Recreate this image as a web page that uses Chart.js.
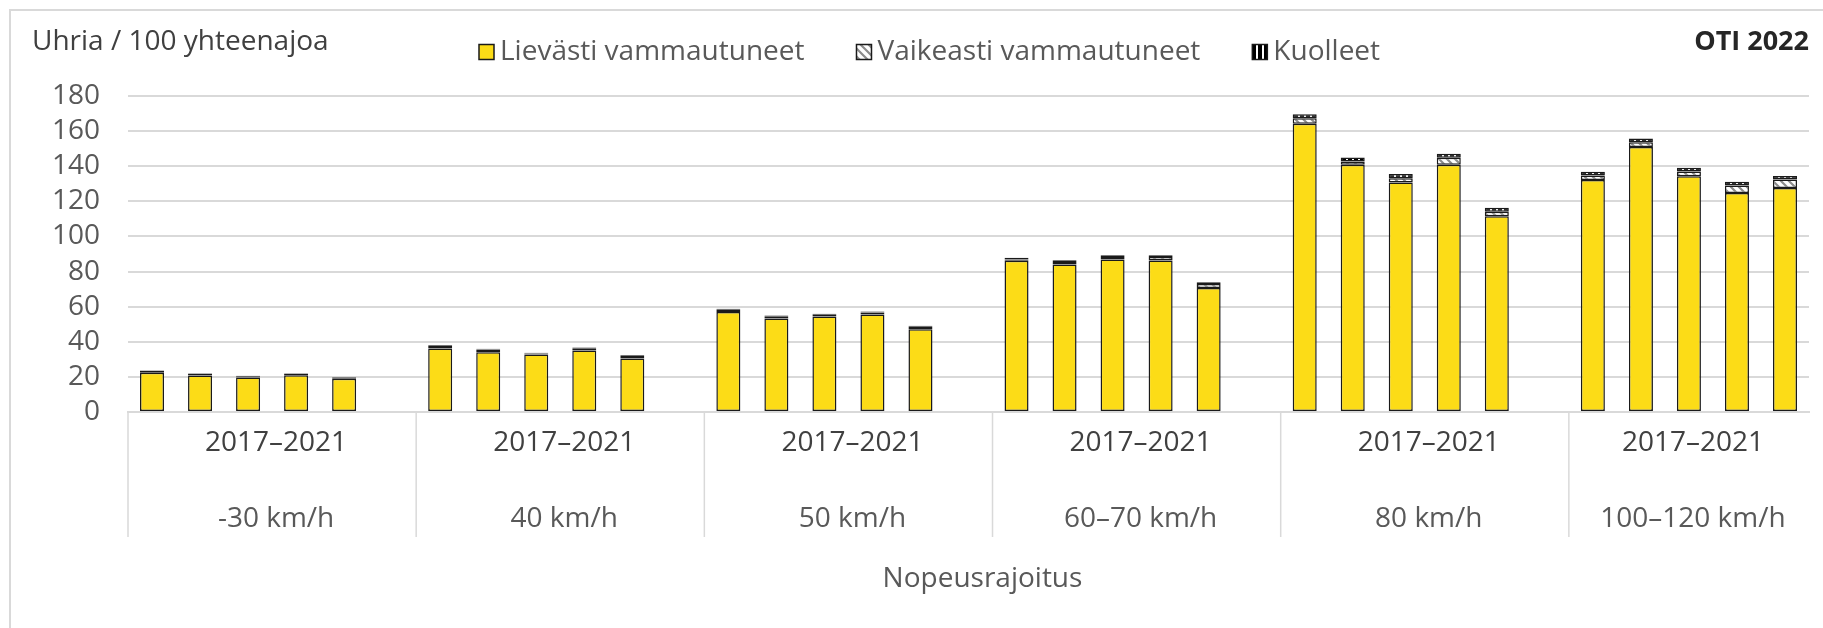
<!DOCTYPE html>
<html lang="fi">
<head>
<meta charset="utf-8">
<title>Uhria / 100 yhteenajoa</title>
<script src="https://cdn.jsdelivr.net/npm/chart.js@4/dist/chart.umd.min.js"></script>
<style>
  html, body { margin: 0; padding: 0; background: #fff; }
  #chart { display: block; }
</style>
</head>
<body>
<canvas id="chart" width="1823" height="628"></canvas>
<script>
// Ryhmät ja jakso
const period = '2017–2021';
const groups = ['-30 km/h', '40 km/h', '50 km/h', '60–70 km/h', '80 km/h', '100–120 km/h'];
const yTicks = [0, 20, 40, 60, 80, 100, 120, 140, 160, 180];

// Uhrit / 100 yhteenajoa, viisi pylvästä ryhmää kohden
const lievasti = [
    22.3, 20.8, 19.6, 21.0, 18.9,
    36.2, 34.1, 32.7, 35.0, 30.5,
    56.9, 53.3, 54.4, 55.5, 47.2,
    86.1, 84.0, 86.9, 86.3, 70.7,
    164.2, 140.8, 130.7, 140.8, 111.5,
    132.1, 151.0, 134.3, 124.8, 127.6
];
const vaikeasti = [
    1.0, 1.0, 0.7, 0.8, 0.8,
    1.5, 1.5, 0.6, 1.3, 1.5,
    1.4, 1.2, 1.0, 1.2, 1.4,
    0.8, 1.5, 1.4, 2.0, 2.2,
    3.1, 1.9, 2.5, 4.0, 2.5,
    2.6, 2.7, 2.7, 4.2, 4.8
];
const kuolleet = [
    0.3, 0.3, 0.3, 0.3, 0.3,
    0.4, 0.4, 0.4, 0.4, 0.4,
    0.5, 0.5, 0.5, 0.5, 0.5,
    0.9, 1.0, 1.0, 1.0, 1.0,
    2.3, 2.3, 2.3, 2.3, 2.3,
    2.1, 2.1, 2.1, 2.1, 2.1
];

const FONT = "'Open Sans', 'Noto Sans', sans-serif";
const FONT_SIZE = 28;
const GRID = '#d9d9d9';
const BARS_PER_GROUP = 5;

// kuviotäytöt
function makePattern(w, h, paint) {
    const c = document.createElement('canvas');
    c.width = w; c.height = h;
    paint(c.getContext('2d'));
    return c.getContext('2d').createPattern(c, 'repeat');
}
const severePattern = makePattern(8, 8, g => {
    g.fillStyle = '#fff';
    g.fillRect(0, 0, 8, 8);
    g.strokeStyle = '#8c8c8c';
    g.lineWidth = 2.2;
    g.beginPath();
    g.moveTo(-2, -2); g.lineTo(10, 10);
    g.moveTo(-2, 6); g.lineTo(2, 10);
    g.moveTo(6, -2); g.lineTo(10, 2);
    g.stroke();
});
const deadPattern = makePattern(6, 6, g => {
    g.fillStyle = '#000';
    g.fillRect(0, 0, 6, 6);
    g.fillStyle = '#fff';
    g.fillRect(2, 0, 2, 6);
});

// 5 pylvästä + tyhjä väli jokaisen ryhmän perään (paitsi viimeisen)
const slots = [];
const lightData = [], severeData = [], deadData = [];
groups.forEach((g, gi) => {
    for (let k = 0; k < BARS_PER_GROUP; k++) {
        const i = gi * BARS_PER_GROUP + k;
        slots.push(g);
        lightData.push(lievasti[i]);
        severeData.push(vaikeasti[i]);
        deadData.push(kuolleet[i]);
    }
    if (gi < groups.length - 1) {
        slots.push('');
        lightData.push(null); severeData.push(null); deadData.push(null);
    }
});

const barStyle = {
    borderColor: '#1a1a1a',
    borderWidth: 1.5,
    borderSkipped: false,
    barPercentage: 0.5,
    categoryPercentage: 1.0
};

// otsikot, selite, ryhmien nimet ja kehys
const decorPlugin = {
    id: 'decor',
    afterDraw(chart) {
        const ctx = chart.ctx;
        const x = chart.scales.x;
        const area = chart.chartArea;
        ctx.save();

        // kehys
        ctx.strokeStyle = GRID;
        ctx.lineWidth = 2;
        ctx.beginPath();
        ctx.moveTo(10, 640);
        ctx.lineTo(10, 10);
        ctx.lineTo(1830, 10);
        ctx.stroke();

        ctx.textBaseline = 'middle';
        ctx.font = `${FONT_SIZE}px ${FONT}`;
        ctx.fillStyle = '#404040';
        ctx.textAlign = 'left';
        ctx.fillText('Uhria / 100 yhteenajoa', 32, 42);

        ctx.font = `bold 27px ${FONT}`;
        ctx.fillStyle = '#262626';
        ctx.textAlign = 'right';
        ctx.fillText('OTI 2022', area.right, 42);

        // selite
        ctx.font = `${FONT_SIZE}px ${FONT}`;
        ctx.textAlign = 'left';
        let lx = 479;
        const ly = 52, box = 15;
        chart.data.datasets.forEach(ds => {
            ctx.fillStyle = ds.backgroundColor;
            ctx.fillRect(lx, ly - box / 2, box, box);
            ctx.strokeStyle = '#1a1a1a';
            ctx.lineWidth = 1.5;
            ctx.strokeRect(lx, ly - box / 2, box, box);
            ctx.fillStyle = '#595959';
            ctx.fillText(ds.label, lx + box + 6, ly);
            lx += box + 6 + ctx.measureText(ds.label).width + 52;
        });

        // ryhmien erottimet ja nimet
        const half = (x.getPixelForValue(1) - x.getPixelForValue(0)) / 2;
        ctx.textAlign = 'center';
        groups.forEach((g, gi) => {
            const first = gi * (BARS_PER_GROUP + 1);
            const last = gi < groups.length - 1 ? first + BARS_PER_GROUP : first + BARS_PER_GROUP - 1;
            const left = x.getPixelForValue(first) - half;
            const right = x.getPixelForValue(last) + half;
            ctx.strokeStyle = GRID;
            ctx.lineWidth = 1.5;
            ctx.beginPath();
            ctx.moveTo(left, area.bottom);
            ctx.lineTo(left, 537);
            ctx.stroke();
            const cx = (left + right) / 2 + 4;
            ctx.fillStyle = '#404040';
            ctx.fillText(period, cx, 443);
            ctx.fillStyle = '#595959';
            ctx.fillText(g, cx, 519);
        });

        ctx.fillStyle = '#595959';
        ctx.fillText('Nopeusrajoitus', (area.left + area.right) / 2 + 14, 579);
        ctx.restore();
    }
};

new Chart(document.getElementById('chart'), {
    type: 'bar',
    data: {
        labels: slots,
        datasets: [
            { label: 'Lievästi vammautuneet', data: lightData, backgroundColor: '#fcdc17', ...barStyle },
            { label: 'Vaikeasti vammautuneet', data: severeData, backgroundColor: severePattern, ...barStyle },
            { label: 'Kuolleet', data: deadData, backgroundColor: deadPattern, ...barStyle }
        ]
    },
    options: {
        responsive: false,
        animation: false,
        devicePixelRatio: 1,
        layout: { padding: { top: 96, right: 14, left: 0, bottom: 0 } },
        plugins: {
            legend: { display: false },
            tooltip: { enabled: false }
        },
        scales: {
            x: {
                stacked: true,
                grid: { display: false },
                ticks: { display: false },
                border: { color: GRID, width: 2 },
                afterFit: s => { s.height = 216; }
            },
            y: {
                stacked: true,
                min: yTicks[0],
                max: yTicks[yTicks.length - 1],
                afterBuildTicks: s => { s.ticks = yTicks.map(v => ({ value: v })); },
                grid: { color: GRID, lineWidth: 2, drawTicks: false },
                border: { display: false },
                ticks: {
                    color: '#595959',
                    font: { size: FONT_SIZE, family: FONT },
                    padding: 28,
                    autoSkip: false
                },
                afterFit: s => { s.width = 128; }
            }
        }
    },
    plugins: [decorPlugin]
});
</script>
</body>
</html>
